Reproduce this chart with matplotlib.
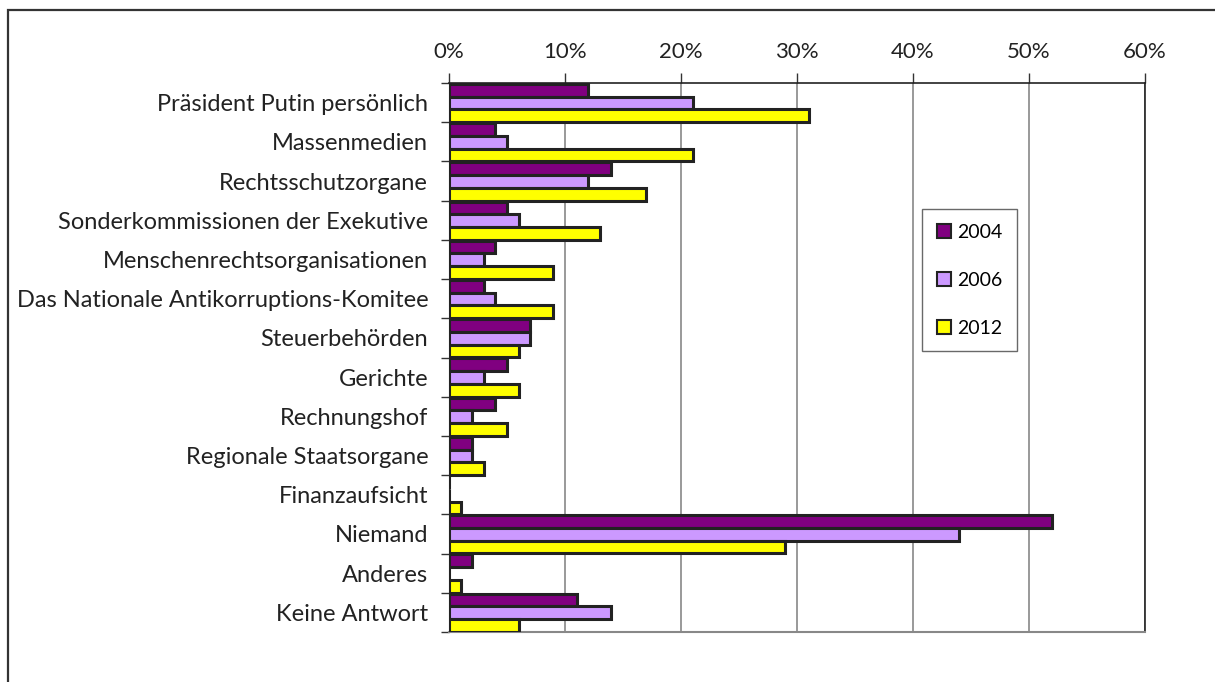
import numpy as np
import matplotlib
matplotlib.use("Agg")
import matplotlib.pyplot as plt
from matplotlib.patches import Rectangle
from matplotlib.ticker import FixedLocator, PercentFormatter

plt.rcParams['font.family'] = ['Lato', 'DejaVu Sans']

categories = [
    "Präsident Putin persönlich",
    "Massenmedien",
    "Rechtsschutzorgane",
    "Sonderkommissionen der Exekutive",
    "Menschenrechtsorganisationen",
    "Das Nationale Antikorruptions-Komitee",
    "Steuerbehörden",
    "Gerichte",
    "Rechnungshof",
    "Regionale Staatsorgane",
    "Finanzaufsicht",
    "Niemand",
    "Anderes",
    "Keine Antwort",
]
years = ["2004", "2006", "2012"]
v2004 = [12, 4, 14, 5, 4, 3, 7, 5, 4, 2, 0, 52, 2, 11]
v2006 = [21, 5, 12, 6, 3, 4, 7, 3, 2, 2, 0, 44, 0, 14]
v2012 = [31, 21, 17, 13, 9, 9, 6, 6, 5, 3, 1, 29, 1, 6]
colors = ["#800080", "#CC99FF", "#FFFF00"]

fig = plt.figure(figsize=(12.15, 6.82), dpi=100)
ax = fig.add_axes([449 / 1215, 1 - 632 / 682, 696 / 1215, 549 / 682])

# outer frame of the embedded chart (cut off at the right and bottom)
fig.patches.append(Rectangle((8 / 1215, -0.1), 1.2, 1 - 10 / 682 + 0.1,
                             transform=fig.transFigure, fill=False,
                             edgecolor="#333333", linewidth=1.6))

y = np.arange(len(categories))
h = 0.325
for k, (vals, c, lab) in enumerate(zip([v2004, v2006, v2012], colors, years)):
    ax.barh(y + (k - 1) * h + 0.01, vals, height=h, color=c, edgecolor="#222222",
            linewidth=2.2, label=lab, zorder=3)

ax.set_xlim(0, 60)
ax.set_ylim(len(categories) - 0.5, -0.5)
ax.xaxis.set_major_locator(FixedLocator(np.arange(0, 61, 10)))
ax.xaxis.set_major_formatter(PercentFormatter(decimals=0))
ax.xaxis.tick_top()
ax.tick_params(axis="x", length=7, width=1, color="#333333", labelsize=16,
               pad=8, labelcolor="#222222")
ax.grid(axis="x", color="#888888", linewidth=1.2, zorder=0)

ax.set_yticks(y)
ax.set_yticklabels(categories, fontsize=17, color="#222222")
ax.yaxis.set_minor_locator(FixedLocator(np.arange(-0.5, len(categories), 1)))
ax.tick_params(axis="y", which="major", length=0, pad=15)
ax.tick_params(axis="y", which="minor", length=6, width=1, color="#333333")

for s in ["top", "right"]:
    ax.spines[s].set_color("#222222")
    ax.spines[s].set_linewidth(1.2)
ax.spines["left"].set_color("#444444")
ax.spines["bottom"].set_color("#888888")
ax.spines["bottom"].set_linewidth(1.5)

leg = ax.legend(loc="upper left", bbox_to_anchor=((922 - 449) / 696, (632 - 209) / 549),
                frameon=True, fancybox=False, fontsize=14, labelspacing=1.6,
                handlelength=0.75, handleheight=0.75, handletextpad=0.3,
                borderpad=0.75, borderaxespad=0)
leg.get_frame().set_edgecolor("#444444")
leg.get_frame().set_linewidth(1)
for p in leg.get_patches():
    p.set_linewidth(1.5)

fig.savefig("out.png", dpi=100)
